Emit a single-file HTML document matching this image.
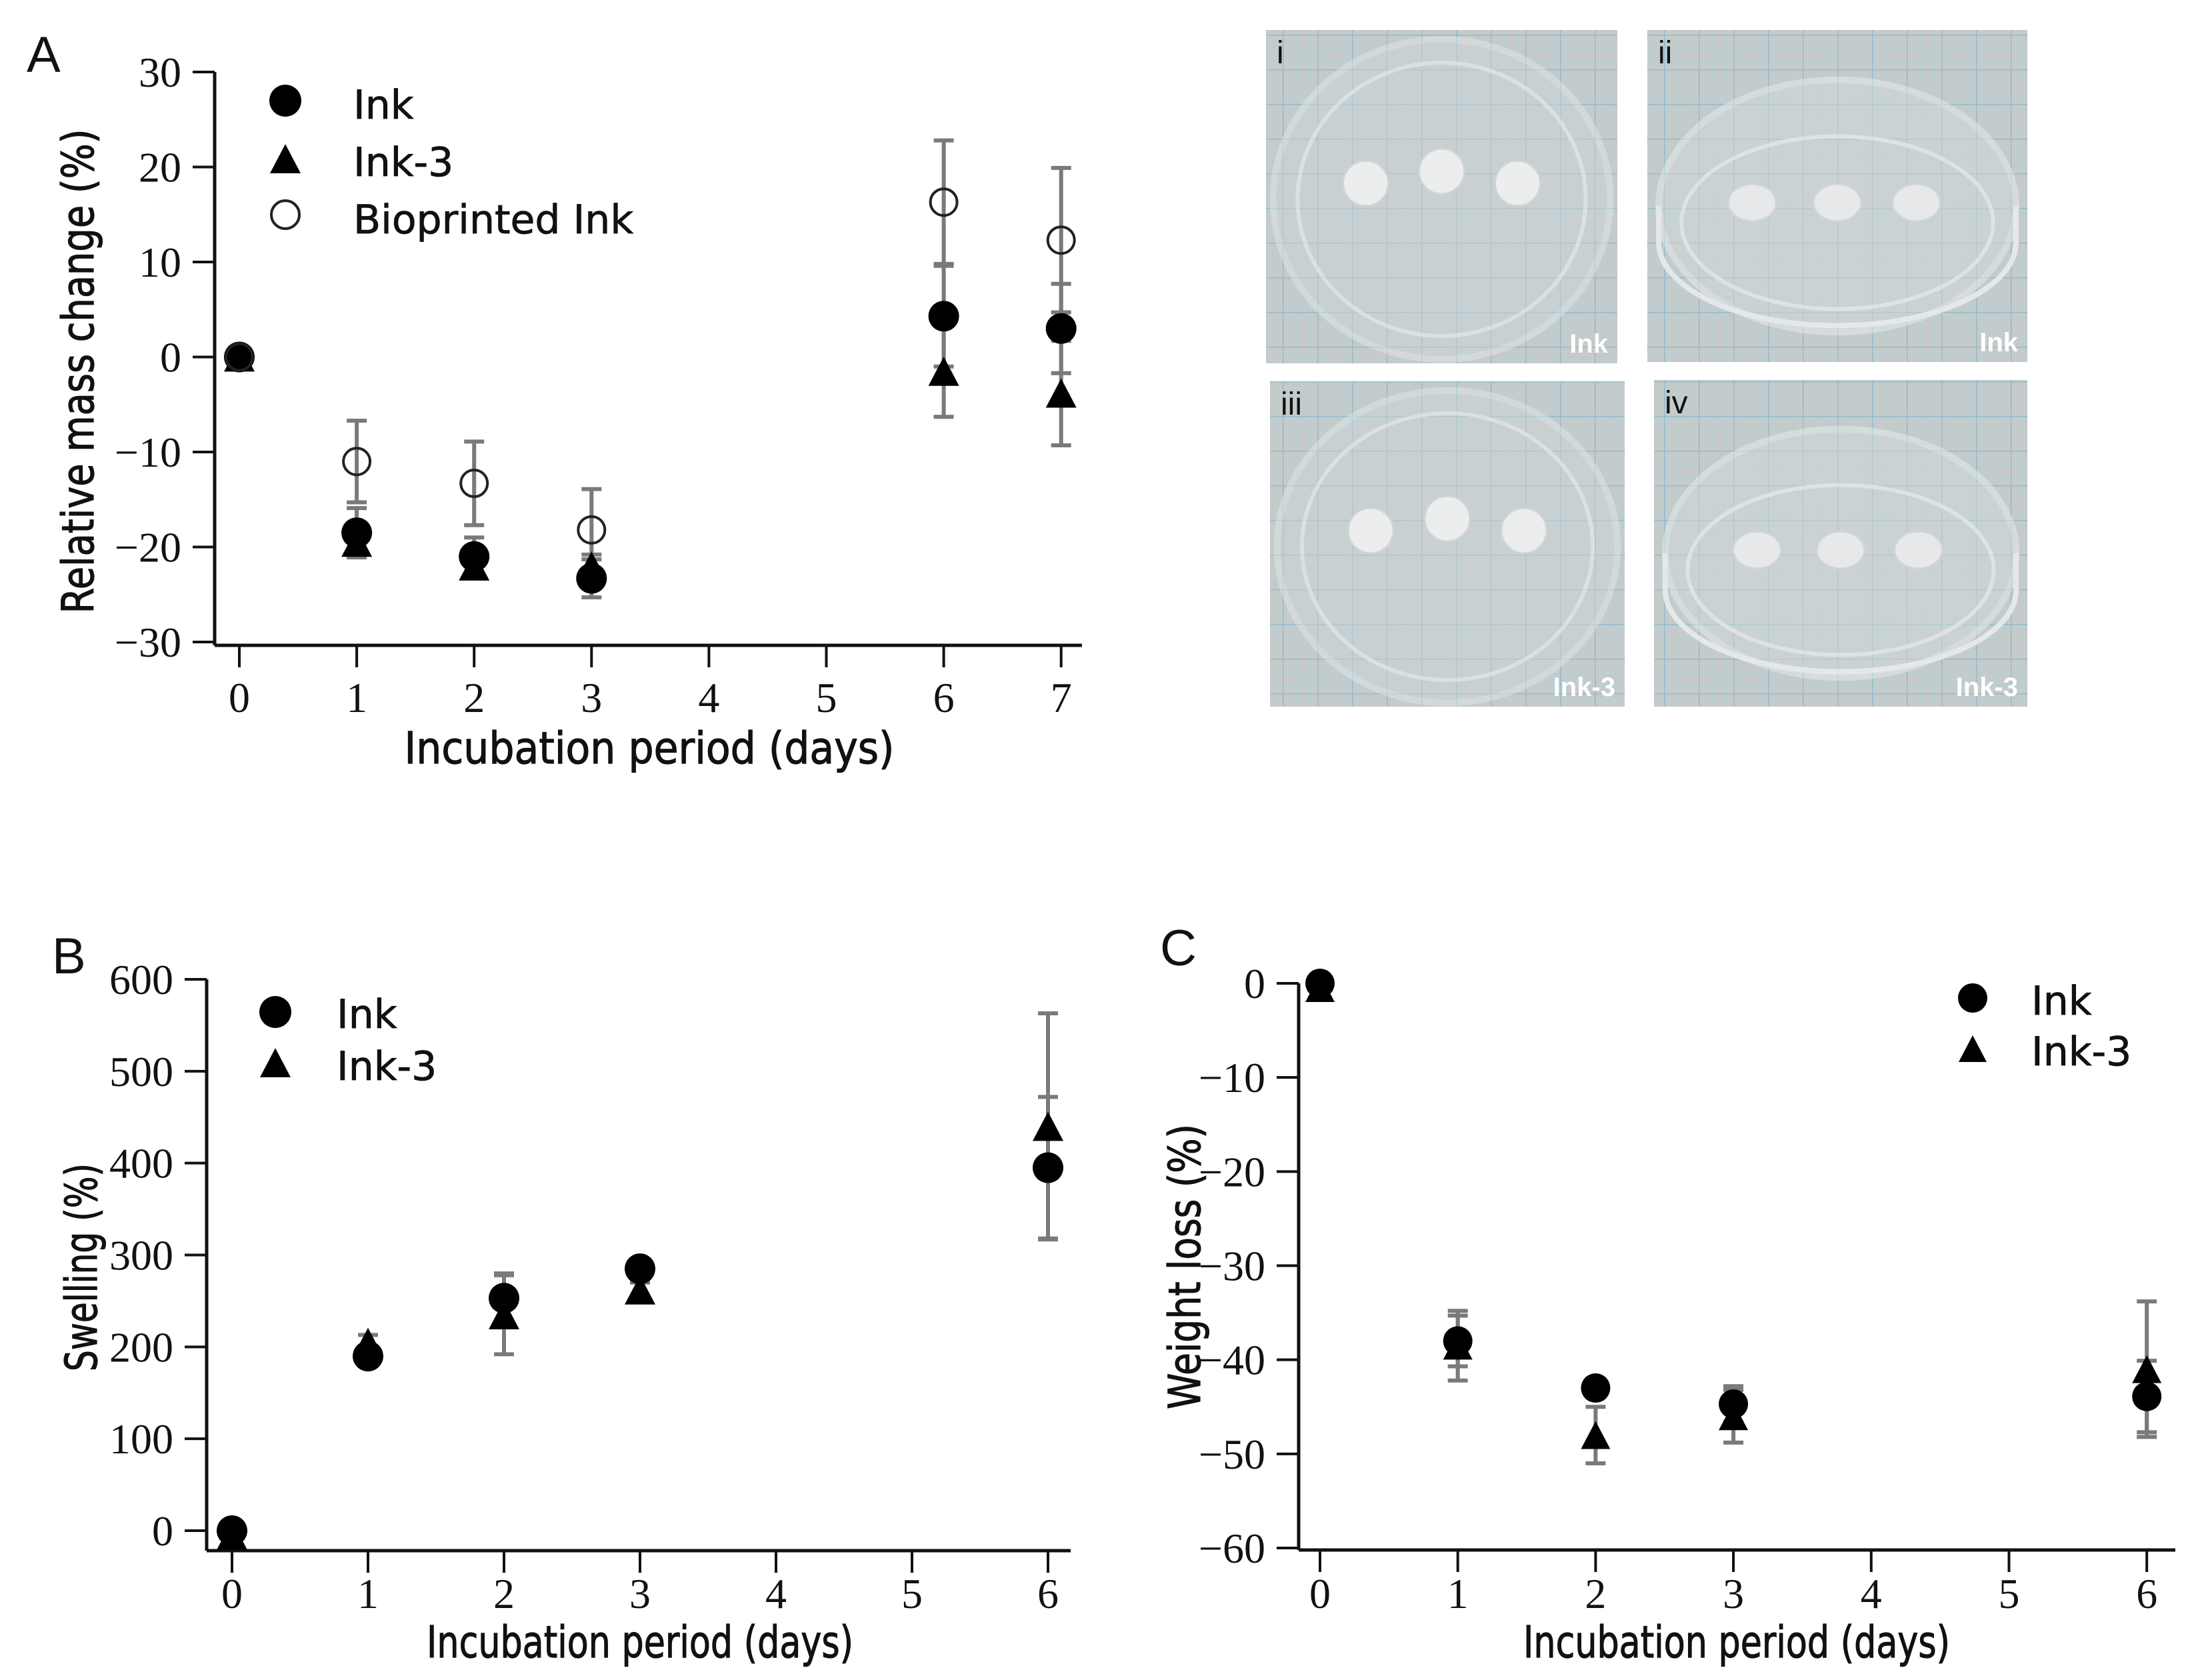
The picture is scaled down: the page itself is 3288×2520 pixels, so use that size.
<!DOCTYPE html>
<html><head><meta charset="utf-8">
<style>
html,body{margin:0;padding:0;background:#fff;}
svg{display:block;}
.tick{font-family:"Liberation Serif",serif;font-size:64px;fill:#111;}
.lab{font-family:"DejaVu Sans","Liberation Sans",sans-serif;font-size:66px;fill:#111;stroke:#111;stroke-width:1.2px;}
.leg{font-family:"DejaVu Sans","Liberation Sans",sans-serif;font-size:60px;fill:#111;stroke:#111;stroke-width:0.8px;}
.panel{font-family:"Liberation Sans",sans-serif;font-size:76px;fill:#111;}
.ph{font-family:"Liberation Sans",sans-serif;font-weight:bold;font-size:40px;}
.phl{font-family:"Liberation Sans",sans-serif;font-size:48px;}
</style></head>
<body>
<svg id="fig" xmlns="http://www.w3.org/2000/svg" width="3288" height="2520" viewBox="0 0 3288 2520">
<defs>
<pattern id="grid" width="52" height="52" patternUnits="userSpaceOnUse">
<rect width="52" height="52" fill="#c6cac9"/>
<path d="M10.4 0V52M20.8 0V52M31.2 0V52M41.6 0V52M0 10.4H52M0 20.8H52M0 31.2H52M0 41.6H52" stroke="#b9cfd6" stroke-width="1.5"/>
<path d="M0 0V52M0 0H52" stroke="#8fbccd" stroke-width="3"/>
</pattern>
</defs>
<text class="panel" x="40" y="108">A</text>
<text class="panel" x="78" y="1460">B</text>
<text class="panel" x="1740" y="1448">C</text>
<g id="photos"></g>
<g id="chartA"></g>
<g id="chartB"></g>
<g id="chartC"></g>
</svg>
<script>
// ---------- Chart A data ----------
const aCategories = ["0","1","2","3","4","5","6","7"];
const aDays = [0,1,2,3,6,7];
const aInk = [0,-18.5,-21,-23.3,4.3,3];
const aInkErr = [0.5,2.6,2,2,5.3,4.7];
const aInk3 = [0,-19.5,-22,-22,-1.5,-3.8];
const aInk3Err = [0.5,1.3,1.2,1.2,4.8,5.5];
const aBio = [0,-11,-13.3,-18.2,16.3,12.3];
const aBioErr = [0.8,4.3,4.4,4.3,6.5,7.6];
const aYTicks = [30,20,10,0,-10,-20,-30];
// ---------- Chart B data ----------
const bCategories = ["0","1","2","3","4","5","6"];
const bDays = [0,1,2,3,6];
const bInk = [0,190,253,285,395];
const bInkErr = [5,10,27,10,77];
const bInk3 = [-5,205,235,262,440];
const bInk3Err = [5,8,43,8,123];
const bYTicks = [600,500,400,300,200,100,0];
// ---------- Chart C data ----------
const cCategories = ["0","1","2","3","4","5","6"];
const cDays = [0,1,2,3,6];
const cInk = [0,-38,-43,-44.7,-43.9];
const cInkErr = [0.5,2.7,1,1.9,3.8];
const cInk3 = [-0.5,-38.5,-48,-46,-41];
const cInk3Err = [0.5,3.7,3,2.8,7.2];
const cYTicks = [0,-10,-20,-30,-40,-50,-60];

const NS="http://www.w3.org/2000/svg";
function mk(tag,attrs,parent){const e=document.createElementNS(NS,tag);for(const k in attrs)e.setAttribute(k,attrs[k]);parent.appendChild(e);return e;}

function drawChart(g,cfg){
  const {x0,xStep,yTop,yBot,vTop,vBot,axisX,axisY,axisRight,yTicks,cats}=cfg;
  const xs=d=>x0+d*xStep;
  const ys=v=>yTop+(vTop-v)/(vTop-vBot)*(yBot-yTop);
  let e=mk('line',{x1:axisX,y1:yTop,x2:axisX,y2:axisY,stroke:'#111','stroke-width':5},g);
  
  e=mk('line',{x1:axisX,y1:axisY,x2:axisRight,y2:axisY,stroke:'#111','stroke-width':5},g);
  
  yTicks.forEach(v=>{
    const y=ys(v);
    let t=mk('line',{x1:axisX-33,y1:y,x2:axisX,y2:y,stroke:'#111','stroke-width':4},g);
    
    let tx=mk('text',{x:axisX-50,y:y+22,'text-anchor':'end',class:'tick'},g);
    tx.textContent=(v<0?'\u2212':'')+Math.abs(v);
    
  });
  cats.forEach((c,i)=>{
    const x=xs(i);
    let t=mk('line',{x1:x,y1:axisY,x2:x,y2:axisY+33,stroke:'#111','stroke-width':4},g);
    
    let tx=mk('text',{x:x,y:cfg.xLabY,'text-anchor':'middle',class:'tick'},g);
    tx.textContent=c;
    
  });
  let xt=mk('text',{x:cfg.xTitle[0],y:cfg.xTitle[1],'text-anchor':'middle',class:'lab',textLength:cfg.xTitle[2],lengthAdjust:'spacingAndGlyphs'},g);
  xt.textContent='Incubation period (days)';
  
  let yt=mk('text',{x:0,y:0,'text-anchor':'middle',class:'lab',textLength:cfg.yTitle[3],lengthAdjust:'spacingAndGlyphs',transform:`translate(${cfg.yTitle[0]},${cfg.yTitle[1]}) rotate(-90)`},g);
  yt.textContent=cfg.yTitle[2];
  
  cfg.series.forEach(s=>{
    s.vals.forEach((v,i)=>{
      const x=xs(s.pos[i]),y1=ys(v+s.err[i]),y2=ys(v-s.err[i]);
      let b=mk('path',{d:`M${x} ${y1}V${y2}M${x-15} ${y1}H${x+15}M${x-15} ${y2}H${x+15}`,stroke:'#7a7a7a','stroke-width':6,fill:'none'},g);
      
    });
  });
  cfg.series.forEach(s=>{
    s.vals.forEach((v,i)=>{
      const x=xs(s.pos[i]),y=ys(v);
      const m=marker(g,s.shape,x,y,s.size);
      
      
    });
  });
  cfg.legend.forEach(l=>{
    const m=marker(g,l.shape,l.mx,l.my,l.size);
    
    
    let t=mk('text',{x:l.tx,y:l.ty,class:'leg'},g);
    t.textContent=l.label;
    
    
  });
}
function marker(g,shape,x,y,s){
  if(shape==='circle')return mk('circle',{cx:x,cy:y,r:s/2,fill:'#000'},g);
  if(shape==='open')return mk('circle',{cx:x,cy:y,r:s/2-2,fill:'none',stroke:'#222','stroke-width':4},g);
  const h=s*0.95;
  return mk('path',{d:`M${x} ${y-h/2}L${x+s/2} ${y+h/2}L${x-s/2} ${y+h/2}Z`,fill:'#000'},g);
}

drawChart(document.getElementById('chartA'),{
  x0:359,xStep:176.1,yTop:108,yBot:963,vTop:30,vBot:-30,axisX:322,axisY:968,axisRight:1623,
  yTicks:aYTicks,cats:aCategories,xLabY:1068,
  xTitle:[974,1145,735],yTitle:[140,557,'Relative mass change (%)',727],
  series:[
    {name:'ink3',shape:'tri',vals:aInk3,err:aInk3Err,pos:aDays.map(d=>d),size:46},
    {name:'ink',shape:'circle',vals:aInk,err:aInkErr,pos:aDays.map(d=>d),size:46},
    {name:'bioprinted-ink',shape:'open',vals:aBio,err:aBioErr,pos:aDays.map(d=>d),size:44}
  ],
  legend:[
    {shape:'circle',mx:428,my:151,size:48,tx:530,ty:178,label:'Ink'},
    {shape:'tri',mx:428,my:238,size:46,tx:530,ty:264,label:'Ink-3'},
    {shape:'open',mx:428,my:322,size:46,tx:530,ty:350,label:'Bioprinted Ink'}
  ]
});
drawChart(document.getElementById('chartB'),{
  x0:348,xStep:204,yTop:1469,yBot:2296,vTop:600,vBot:0,axisX:310,axisY:2326,axisRight:1606,
  yTicks:bYTicks,cats:bCategories,xLabY:2412,
  xTitle:[960,2486,640],yTitle:[145,1901,'Swelling (%)',312],
  series:[
    {name:'ink3',shape:'tri',vals:bInk3,err:bInk3Err,pos:[0,1,2,3,6],size:46},
    {name:'ink',shape:'circle',vals:bInk,err:bInkErr,pos:[0,1,2,3,6],size:46}
  ],
  legend:[
    {shape:'circle',mx:413,my:1518,size:48,tx:505,ty:1542,label:'Ink'},
    {shape:'tri',mx:413,my:1594,size:46,tx:505,ty:1620,label:'Ink-3'}
  ]
});
drawChart(document.getElementById('chartC'),{
  x0:1980,xStep:206.7,yTop:1475,yBot:2322,vTop:0,vBot:-60,axisX:1948,axisY:2325,axisRight:3263,
  yTicks:cYTicks,cats:cCategories,xLabY:2412,
  xTitle:[2605,2486,640],yTitle:[1800,1900,'Weight loss (%)',428],
  series:[
    {name:'ink3',shape:'tri',vals:cInk3,err:cInk3Err,pos:[0,1,2,3,6],size:44},
    {name:'ink',shape:'circle',vals:cInk,err:cInkErr,pos:[0,1,2,3,6],size:44}
  ],
  legend:[
    {shape:'circle',mx:2959,my:1497,size:44,tx:3047,ty:1522,label:'Ink'},
    {shape:'tri',mx:2959,my:1573,size:42,tx:3047,ty:1598,label:'Ink-3'}
  ]
});

// ---------- Photos ----------
const ph=document.getElementById('photos');
const photos=[
  {x:1899,y:45,w:527,h:500,lab:'i',cap:'Ink',top:true},
  {x:2471,y:45,w:570,h:498,lab:'ii',cap:'Ink',top:false},
  {x:1905,y:572,w:532,h:488,lab:'iii',cap:'Ink-3',top:true},
  {x:2481,y:570,w:560,h:490,lab:'iv',cap:'Ink-3',top:false}
];
photos.forEach((p,k)=>{
  const g=mk('g',{},ph);
  
  
  mk('rect',{x:p.x,y:p.y,width:p.w,height:p.h,fill:'url(#grid)'},g);
  const cx=p.x+p.w/2, cy=p.y+p.h/2;
  if(p.top){
    mk('ellipse',{cx:cx,cy:cy+4,rx:p.w*0.48,ry:p.h*0.48,fill:'#d0d6d8',stroke:'#e6eaeb','stroke-width':10,opacity:0.45},g);
    mk('ellipse',{cx:cx,cy:cy+4,rx:p.w*0.41,ry:p.h*0.41,fill:'none',stroke:'#dfe4e6','stroke-width':6,opacity:0.8},g);
    [-0.3,0,0.3].forEach((f,j)=>{
      mk('circle',{cx:cx+f*p.w*0.72,cy:cy+(j===1?-18:0)-20,r:34,fill:'#eceeee',stroke:'#d0d4d6','stroke-width':3},g);
    });
  } else {
    mk('ellipse',{cx:cx,cy:cy+15,rx:p.w*0.47,ry:p.h*0.38,fill:'#d2d8da',stroke:'#e8ecee','stroke-width':10,opacity:0.5},g);
    mk('ellipse',{cx:cx,cy:cy+40,rx:p.w*0.41,ry:p.h*0.26,fill:'none',stroke:'#dde3e5','stroke-width':6},g);
    mk('path',{d:`M${cx-p.w*0.47} ${cy+15} V${cy+70} A${p.w*0.47} ${p.h*0.25} 0 0 0 ${cx+p.w*0.47} ${cy+70} V${cy+15}`,fill:'none',stroke:'#e4e8ea','stroke-width':8},g);
    [-0.28,0,0.26].forEach((f,j)=>{
      mk('ellipse',{cx:cx+f*p.w*0.8,cy:cy+10,rx:36,ry:28,fill:'#e6e8ea',stroke:'#cfd4d6','stroke-width':3},g);
    });
  }
  let t=mk('text',{x:p.x+16,y:p.y+50,class:'phl',fill:'#111'},g);
  t.textContent=p.lab;
  
  
  t=mk('text',{x:p.x+p.w-14,y:p.y+p.h-16,class:'ph','text-anchor':'end',fill:'#fff'},g);
  t.textContent=p.cap;
  
  
});
</script>
</body></html>
